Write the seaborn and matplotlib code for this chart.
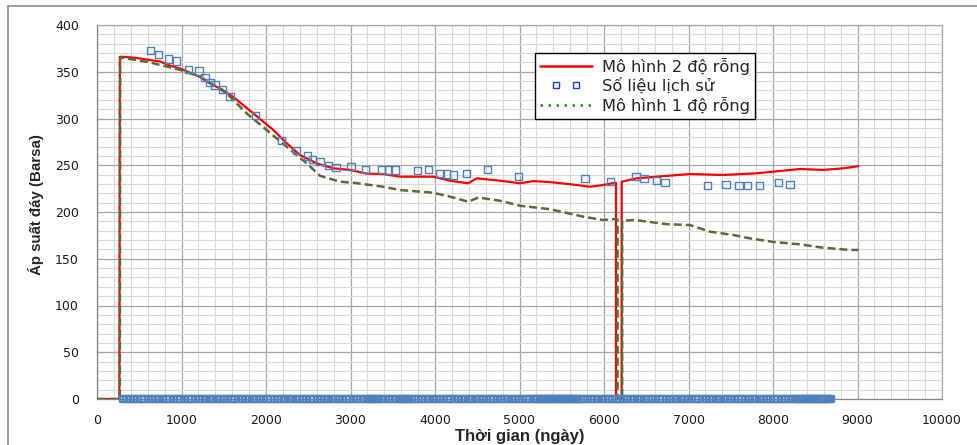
import matplotlib
matplotlib.use("Agg")
import matplotlib.pyplot as plt
import seaborn as sns
import numpy as np
from matplotlib.lines import Line2D
from matplotlib.legend_handler import HandlerLine2D
from matplotlib.ticker import MultipleLocator

# ---------------- data ----------------
red_x = [0, 265, 270, 300, 450, 627, 750, 850, 982, 1100, 1230, 1337, 1480, 1613, 1850, 2087,
         2245, 2402, 2600, 2797, 2994, 3191, 3388, 3586, 3980, 4177, 4394, 4493, 4769, 5006,
         5163, 5361, 5677, 5834, 5992, 6130, 6142, 6142, 6209, 6209, 6387, 6624, 7018, 7412,
         7807, 8122, 8319, 8595, 8832, 9010]
red_y = [0, 0, 366, 366, 365, 362.5, 361, 357, 353.5, 349, 344, 337.5, 331, 323, 305.5, 287.7,
         273.5, 261, 252, 246.7, 245, 241, 240.6, 237.8, 237.8, 233.5, 230.7, 236, 233.5, 230.7,
         233, 232, 228.9, 227, 228.9, 231.3, 231, 0, 0, 232.4, 236, 237.8, 240.6, 239.6,
         241.4, 244.2, 246, 245, 246.7, 249]

green_x = [0, 270, 275, 300, 627, 982, 1219, 1534, 1771, 2008, 2245, 2482, 2639, 2876, 3033,
           3388, 3586, 3980, 4177, 4394, 4512, 4769, 5006, 5361, 5755, 5992, 6130, 6160, 6160,
           6215, 6215, 6367, 6742, 7018, 7254, 7530, 7728, 8003, 8319, 8595, 8911, 9010]
green_y = [0, 0, 365, 365, 360, 352, 344.7, 327, 305.5, 287.7, 269.8, 252, 238.8, 232.4, 231.3,
           227, 223.5, 220.6, 216.4, 211, 215.5, 212, 206.7, 203, 195, 191.4, 192.5, 192, 0,
           0, 190.7, 191.4, 187, 186, 179, 175.4, 171.8, 168, 165.4, 161.8, 159.4, 159.4]

hist_x = [635, 726, 844, 943, 1081, 1207, 1278, 1337, 1396, 1487, 1574, 1878, 2178, 2363, 2489,
          2548, 2639, 2738, 2828, 3006, 3180, 3369, 3448, 3527, 3791, 3921, 4059, 4138, 4217,
          4371, 4621, 4986, 5775, 6079, 6379, 6473, 6624, 6722, 7226, 7444, 7598, 7700, 7838,
          8063, 8201]
hist_y = [372.5, 368.5, 363.6, 361.5, 352.6, 350.8, 343.6, 338.7, 335.8, 331.2, 323.3, 303, 276,
          265.6, 259.9, 256.4, 253.8, 249.5, 247.8, 248.5, 245.6, 245.6, 244.9, 244.9, 243.9,
          245.6, 241.4, 240.6, 239.6, 241.4, 245.8, 237.8, 236, 232.4, 238.2, 236, 233.5, 231.3,
          228.1, 229.6, 228.1, 228.1, 228.1, 231.3, 229.6]

hist_zero_x = [
    310, 350, 395, 440, 480, 525, 565, 610, 650, 695, 735, 780, 820, 860, 905, 950, 990,
    1035, 1080, 1120, 1165, 1205, 1250, 1290, 1335, 1375, 1420, 1460, 1505, 1545, 1590, 1630,
    1675, 1715, 1760, 1800, 1845, 1885, 1930, 1970,
    2015, 2055, 2100, 2140, 2185, 2225, 2270, 2310, 2355, 2395, 2440, 2480, 2525, 2565, 2610,
    2650, 2695, 2735, 2780, 2820, 2865, 2905, 2950, 2990,
    3035, 3075, 3120, 3160, 3205, 3230, 3255, 3280, 3305, 3330, 3370, 3415, 3455, 3500, 3540,
    3590, 3615, 3640, 3665, 3690, 3720, 3760, 3805, 3845, 3890, 3930, 3975,
    4015, 4060, 4100, 4145, 4185, 4230, 4270, 4315, 4355, 4400, 4440, 4485, 4525, 4570, 4610,
    4655, 4695, 4740, 4780, 4825, 4865, 4910, 4950, 4995,
    5035, 5080, 5120, 5165, 5190, 5215, 5240, 5265, 5290, 5315, 5340, 5365, 5390, 5415, 5440,
    5465, 5490, 5515, 5540, 5565, 5590, 5615, 5640, 5665, 5690, 5720, 5760, 5805, 5845, 5890,
    5930, 5975,
    6015, 6060, 6100, 6145, 6185, 6230, 6270, 6315, 6355, 6400, 6440, 6485, 6525, 6570, 6610,
    6655, 6695, 6740, 6780, 6825, 6865, 6910, 6950, 6995,
    7035, 7080, 7120, 7165, 7205, 7250, 7290, 7335, 7375, 7420, 7460, 7505, 7545, 7590, 7630,
    7675, 7715, 7760, 7800, 7845, 7885, 7930, 7970,
    8015, 8055, 8100, 8140, 8185, 8225, 8260, 8285, 8310, 8335, 8360, 8385, 8410, 8435, 8460,
    8485, 8510, 8535, 8560, 8585, 8610, 8640, 8665, 8686]
hist_zero_y = [0] * len(hist_zero_x)

labels = ["Mô hình 2 độ rỗng", "Số liệu lịch sử", "Mô hình 1 độ rỗng"]
xlabel = "Thời gian (ngày)"
ylabel = "Áp suất đáy (Barsa)"

# ---------------- plotting ----------------
sns.set_style("white")
plt.rcParams["font.family"] = ["DejaVu Sans"]

fig = plt.figure(figsize=(9.77, 4.45), dpi=100)
ax = fig.add_axes([97 / 977, 1 - 399 / 445, (942 - 97) / 977, (399 - 25) / 445])

RED = "#FF0000"
OLIVE = "#5A6B35"
BLUE = "#4F81BD"

sns.lineplot(x=red_x, y=red_y, ax=ax, color=RED, linewidth=1.6, sort=False,
             estimator=None, zorder=3)
sns.lineplot(x=green_x, y=green_y, ax=ax, color=OLIVE, linewidth=1.8, sort=False,
             estimator=None, zorder=4)
ax.lines[-1].set_dashes([3.2, 1.6])

sns.scatterplot(x=hist_x, y=hist_y, ax=ax, marker="s", s=26, zorder=5, clip_on=False)
coll = ax.collections[-1]
coll.set_facecolor("none")
coll.set_edgecolor(BLUE)
coll.set_linewidth(1.0)

sns.scatterplot(x=hist_zero_x, y=hist_zero_y, ax=ax, marker="s", s=22, zorder=5, clip_on=False)
coll0 = ax.collections[-1]
coll0.set_facecolor("none")
coll0.set_edgecolor(BLUE)
coll0.set_linewidth(1.7)

ax.set_xlim(0, 10000)
ax.set_ylim(0, 400)
ax.xaxis.set_major_locator(MultipleLocator(1000))
ax.xaxis.set_minor_locator(MultipleLocator(200))
ax.yaxis.set_major_locator(MultipleLocator(50))
ax.yaxis.set_minor_locator(MultipleLocator(10))
ax.grid(which="major", color="#A6A6A6", linewidth=0.9, zorder=0)
ax.grid(which="minor", color="#D9D9D9", linewidth=0.8, zorder=0)
ax.set_axisbelow(True)
for s in ax.spines.values():
    s.set_color("#A6A6A6")
    s.set_linewidth(0.9)
ax.spines["left"].set_color("#868686")
ax.spines["bottom"].set_color("#868686")

ax.tick_params(axis="both", which="major", direction="out", length=5, width=0.9,
               color="#868686", labelsize=9, labelcolor="#1a1a1a")
ax.tick_params(axis="x", which="major", pad=5.5)
ax.tick_params(axis="y", which="major", pad=8)
ax.tick_params(which="minor", length=0)

ax.set_xlabel(xlabel, fontsize=12, fontweight="bold", family="Liberation Sans")
ax.set_ylabel(ylabel, fontsize=10.8, fontweight="bold", family="Liberation Sans")
ax.xaxis.set_label_coords(0.5, -0.08)
ax.yaxis.set_label_coords(-0.063, 0.52)

# legend
h_red = Line2D([], [], color=RED, linewidth=1.8)
h_blue = Line2D([], [], linestyle="none", marker="s", markersize=5, markerfacecolor="none",
                markeredgecolor="#1F3FD0", markeredgewidth=1.0)
h_green = Line2D([], [], color="#1E9E1E", linewidth=1.8, linestyle=(0, (1, 2.2)))
leg = ax.legend([h_red, h_blue, h_green], labels,
                handler_map={h_blue: HandlerLine2D(numpoints=2, marker_pad=1.0)},
                loc="upper left", bbox_to_anchor=(535 / 977, 1 - 53 / 445),
                bbox_transform=fig.transFigure, frameon=True, fancybox=False,
                edgecolor="black", framealpha=1, borderpad=0.3, labelspacing=0.18,
                handlelength=3.2, handletextpad=0.6, borderaxespad=0,
                prop={"family": "DejaVu Sans", "size": 11.7})
leg.get_frame().set_linewidth(1.0)
leg.set_zorder(10)

# outer picture frame (top and left)
fig.add_artist(Line2D([8 / 977, 8 / 977], [0, 1 - 6 / 445], transform=fig.transFigure,
                      color="#8C8C8C", linewidth=1.2))
fig.add_artist(Line2D([8 / 977, 1], [1 - 6 / 445, 1 - 6 / 445], transform=fig.transFigure,
                      color="#8C8C8C", linewidth=1.2))

fig.savefig("out.png", dpi=100)
